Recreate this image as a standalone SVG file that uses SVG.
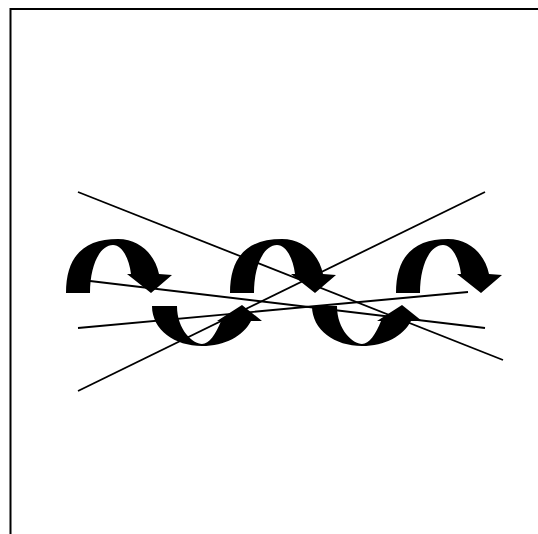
<svg xmlns="http://www.w3.org/2000/svg" xmlns:xlink="http://www.w3.org/1999/xlink" width="538" height="534" viewBox="0 0 538 534">
<style>
.frame{fill:none;stroke:#000;stroke-width:2}
.arrow{fill:#000;stroke:none}
.conn line{stroke:#000;stroke-width:1.8;stroke-linecap:butt}
</style>
<defs>
<path id="topArrow" class="arrow" d="M66,293 C66,255 85,239 118,239 C140,239 155,255 159,274 L172,275 L151,293 L127,274 L131,274 C129,258 122,245 113,245 C100,245 90,265 90,293 Z"/>
<path id="botArrow" class="arrow" d="M152,306 C152,330 175,346 202,346 C225,346 243,336 251,321 L262,321 L242,305 L217,321 L221,321 C216,334 209,344 202,344 C193,344 177,330 177,306 Z"/>
</defs>
<rect width="538" height="534" fill="#fff"/>
<path class="frame" d="M10.5,534 V9 H538"/>
<g id="top-arrow-1"><use xlink:href="#topArrow"/></g>
<g id="top-arrow-2"><use xlink:href="#topArrow" transform="translate(164,0)"/></g>
<g id="top-arrow-3"><use xlink:href="#topArrow" transform="translate(330,0)"/></g>
<g id="bottom-arrow-1"><use xlink:href="#botArrow"/></g>
<g id="bottom-arrow-2"><use xlink:href="#botArrow" transform="translate(160,0)"/></g>
<g id="connectors" class="conn">
<line x1="78" y1="192" x2="503" y2="360"/>
<line x1="485" y1="192" x2="78" y2="391"/>
<line x1="90" y1="281" x2="485" y2="328"/>
<line x1="78" y1="328" x2="468" y2="292"/>
</g>
</svg>
